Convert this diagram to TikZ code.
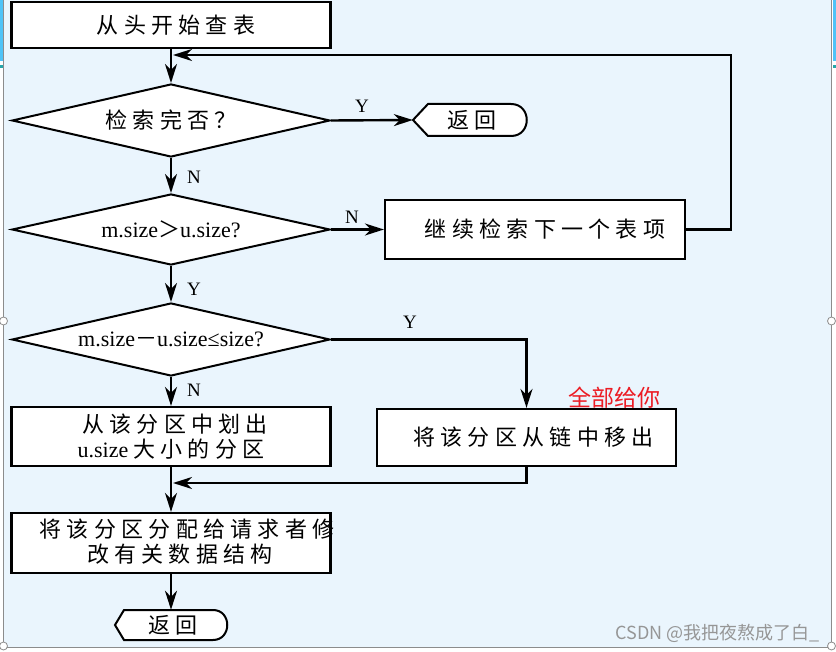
\documentclass[tikz,border=0pt]{standalone}
\usepackage{fontspec}
\setmainfont{Liberation Serif}
\newfontfamily\cjk{Noto Sans CJK SC}[LetterSpace=24]
\newfontfamily\cjkplain{Noto Sans CJK SC}
\usetikzlibrary{arrows.meta,shapes.geometric}
\definecolor{bgblue}{RGB}{234,245,253}
\definecolor{stripblue}{RGB}{79,195,247}
\definecolor{stripteal}{RGB}{38,166,170}
\definecolor{framegray}{RGB}{140,140,140}
\definecolor{wmgray}{RGB}{150,150,150}
\definecolor{redtxt}{RGB}{236,28,36}
\newcommand\cjktext{\cjk\fontsize{22}{25}\selectfont}
\newcommand\sertext{\rmfamily\fontsize{22}{24}\selectfont}
\tikzset{
  flowbox/.style={draw=black,fill=white,line width=2.2pt,rectangle,inner sep=0pt,align=center,font=\cjktext},
  decision/.style={draw=black,fill=white,line width=2pt,diamond,aspect=4.3,inner sep=0pt,minimum width=318pt,minimum height=73pt,font=\sertext},
  termshape/.style={draw=black,fill=white,line width=2pt},
  termtext/.style={inner sep=0pt,font=\cjktext},
  conn/.style={line width=2.4pt,-{Stealth[length=19pt,width=12pt,inset=6pt]}},
  lab/.style={inner sep=0pt,font=\rmfamily\fontsize{19}{19}\selectfont},
}
\begin{document}
\begin{tikzpicture}[x=1pt,y=-1pt]
\useasboundingbox (0,0) rectangle (836,652);
% background and screenshot frame
\fill[white] (0,0) rectangle (836,652);
\fill[bgblue] (3.5,0) rectangle (831.5,647);
\fill[stripblue] (0,0) rectangle (2.5,61);
\fill[stripteal] (0,65) rectangle (2.5,68);
\fill[stripblue] (833,0) rectangle (836,61);
\fill[stripteal] (833,65) rectangle (836,68);
\draw[framegray,line width=1pt] (3.5,0) -- (3.5,647) -- (831.5,647) -- (831.5,0);
\foreach \hx/\hy in {3.5/321,831.5/321,3.5/646,831.5/646}
  \draw[framegray,fill=white,line width=0.8pt] (\hx,\hy) circle[radius=4pt];

% terminal outlines
\draw[termshape] (413,120) -- (428,104) -- (511,104) .. controls (532,104) and (532,136) .. (511,136) -- (428,136) -- cycle;
\draw[termshape] (115,625) -- (124,610) -- (213,610) .. controls (232,610) and (232,640) .. (213,640) -- (124,640) -- cycle;

% nodes
\node[flowbox,minimum width=319pt,minimum height=46pt] (b1) at (171,25) {\hspace*{10pt}从头开始查表};
\node[decision] (d1) at (171,120.5) {{\cjk 检索完否？}};
\node[termtext,minimum width=114pt,minimum height=32pt] (r1) at (470,120) {\hspace*{4pt}返回};
\node[decision,minimum height=71pt] (d2) at (171,229.5) {m.size{\cjkplain ＞}u.size?};
\node[flowbox,minimum width=300pt,minimum height=59pt] (b2) at (535,229.5) {\hspace*{20pt}继续检索下一个表项};
\node[decision] (d3) at (171,339.5) {m.size{\cjkplain －}u.size≤size?};
\node[flowbox,minimum width=299pt,minimum height=57pt] (b4) at (526.5,437.5) {\hspace*{14pt}将该分区从链中移出};
\node[flowbox,minimum width=319pt,minimum height=59pt] (b3) at (171,436.5) {\hspace*{8pt}从该分区中划出\\{\sertext u.size}\hspace{5pt}大小的分区};
\node[flowbox,minimum width=319pt,minimum height=60pt] (b5) at (171,543) {};
\node[termtext,align=center] (b5t) at (187,542) {将该分区分配给请求者修\\\hspace*{-14pt}改有关数据结构};
\node[termtext,minimum width=112pt,minimum height=30pt] (r2) at (171,625) {\hspace*{4pt}返回};

\coordinate (c1) at (731,55);
\coordinate (j1) at (173,55);
\coordinate (j2) at (173,483);

% connectors
\draw[conn] (b1.south) -- (d1.north);
\draw[conn] (b2.east) -| (c1) -- (j1);
\draw[conn] (d1.east) -- (r1.west);
\draw[conn] (d1.south) -- (d2.north);
\draw[conn] (d2.east) -- (b2.west);
\draw[conn] (d2.south) -- (d3.north);
\draw[conn] (d3.east) -| (b4.north);
\draw[conn] (d3.south) -- (b3.north);
\draw[conn] (b3.south) -- (b5.north);
\draw[conn] (b4.south) |- (j2);
\draw[conn] (b5.south) -- (r2.north);

% branch labels
\node[lab] (ly1) at (362,106) {Y};
\node[lab] (ln1) at (194,177) {N};
\node[lab] (ln2) at (352,217) {N};
\node[lab] (ly2) at (194,289) {Y};
\node[lab] (ly3) at (410,322) {Y};
\node[lab] (ln3) at (194,390) {N};

% annotations
\node[inner sep=0pt,text=redtxt,font=\cjkplain\fontsize{23}{23}\selectfont] (red) at (614.5,398) {全部给你};
\node[inner sep=0pt,anchor=east,text=wmgray,font=\cjkplain\fontsize{18}{18}\selectfont] (wm) at (820,633) {CSDN @我把夜熬成了白\_};
\end{tikzpicture}
\end{document}
